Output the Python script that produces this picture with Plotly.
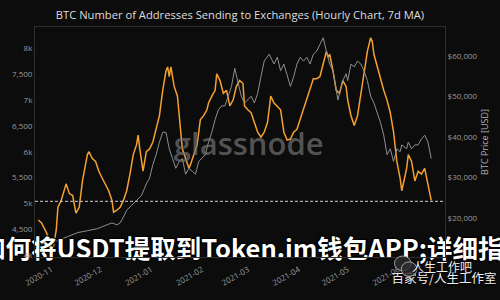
import plotly.graph_objects as go

# ---------------- data ----------------
addr_dates = [
    "2020-10-24", "2020-10-26", "2020-10-29",
    "2020-11-01", "2020-11-02", "2020-11-04", "2020-11-05", "2020-11-07", "2020-11-10", "2020-11-12", "2020-11-14",
    "2020-11-16", "2020-11-18", "2020-11-20", "2020-11-23", "2020-11-24", "2020-11-26", "2020-11-28", "2020-11-30",
    "2020-12-02", "2020-12-04", "2020-12-06", "2020-12-08", "2020-12-09", "2020-12-11", "2020-12-13", "2020-12-15",
    "2020-12-17", "2020-12-19", "2020-12-21", "2020-12-23", "2020-12-24", "2020-12-25", "2020-12-27", "2020-12-29", "2020-12-31",
    "2021-01-02", "2021-01-04", "2021-01-06", "2021-01-08", "2021-01-10", "2021-01-11", "2021-01-12", "2021-01-13",
    "2021-01-15", "2021-01-17", "2021-01-18", "2021-01-19", "2021-01-20", "2021-01-22", "2021-01-24", "2021-01-25",
    "2021-01-27", "2021-01-29", "2021-01-31",
    "2021-02-02", "2021-02-04", "2021-02-05", "2021-02-07", "2021-02-09", "2021-02-10", "2021-02-12", "2021-02-14",
    "2021-02-16", "2021-02-18", "2021-02-20", "2021-02-22", "2021-02-24", "2021-02-26", "2021-02-27",
    "2021-03-01", "2021-03-03", "2021-03-05", "2021-03-07", "2021-03-09", "2021-03-11", "2021-03-13", "2021-03-15",
    "2021-03-17", "2021-03-19", "2021-03-21", "2021-03-23", "2021-03-25", "2021-03-27", "2021-03-29", "2021-03-31",
    "2021-04-02", "2021-04-04", "2021-04-06", "2021-04-08", "2021-04-10", "2021-04-12", "2021-04-14", "2021-04-16",
    "2021-04-18", "2021-04-19", "2021-04-20", "2021-04-22", "2021-04-24", "2021-04-26", "2021-04-28", "2021-04-30",
    "2021-05-01", "2021-05-03", "2021-05-05", "2021-05-07", "2021-05-09", "2021-05-11", "2021-05-13", "2021-05-15",
    "2021-05-16", "2021-05-17", "2021-05-19", "2021-05-21", "2021-05-23", "2021-05-25", "2021-05-27", "2021-05-29", "2021-05-31",
    "2021-06-02", "2021-06-03", "2021-06-06", "2021-06-07", "2021-06-09", "2021-06-11", "2021-06-13", "2021-06-15",
    "2021-06-17", "2021-06-19", "2021-06-20", "2021-06-21",
]
addr_values = [
    4679, 4623, 4434,
    4170, 4113, 4491, 4925, 5057, 5378, 5189, 5151, 4811, 4925, 5434, 5944, 6000, 5868, 5812, 5623,
    5491, 5378, 5245, 5057, 4830, 4868, 4925, 5057, 5245, 5566, 5944, 6132, 6321, 6057, 5623, 6000, 6057,
    6189, 6434, 6698, 7189, 7566, 7642, 7453, 7642, 7265, 7076, 6755, 6434, 6057, 5868, 5679, 5755, 5944, 6132, 6623,
    6698, 6812, 6944, 7076, 7189, 7510, 7378, 7132, 7189, 6887, 7000, 7265, 7378, 7321, 6887,
    6812, 6755, 6566, 6378, 6283, 6378, 6566, 7076, 6944, 6887, 6812, 6378, 6227, 6245, 6378, 6434,
    6623, 6812, 7000, 7189, 7415, 7415, 7453, 7698, 7944, 7830, 7887, 7566, 7189, 7132, 7378, 7265,
    7000, 6698, 6510, 6698, 7132, 7566, 7944, 8208, 8132, 7887, 7642, 7378, 7189, 7000, 6755, 6378, 5812,
    5491, 5245, 5679, 5944, 5812, 5434, 5623, 5566, 5679, 5378, 5189, 5057,
]

price_dates = [
    "2020-10-22", "2020-11-02", "2020-11-11", "2020-11-17", "2020-11-23", "2020-11-29",
    "2020-12-02", "2020-12-05", "2020-12-08", "2020-12-11", "2020-12-13", "2020-12-15", "2020-12-17", "2020-12-20",
    "2020-12-23", "2020-12-26", "2020-12-29", "2020-12-31",
    "2021-01-02", "2021-01-04", "2021-01-06", "2021-01-08", "2021-01-10", "2021-01-12", "2021-01-14", "2021-01-16",
    "2021-01-18", "2021-01-20", "2021-01-22", "2021-01-24", "2021-01-26", "2021-01-28", "2021-01-30",
    "2021-02-01", "2021-02-03", "2021-02-05", "2021-02-07", "2021-02-09", "2021-02-11", "2021-02-13", "2021-02-15",
    "2021-02-17", "2021-02-19", "2021-02-21", "2021-02-23", "2021-02-25", "2021-02-27",
    "2021-03-01", "2021-03-03", "2021-03-05", "2021-03-07", "2021-03-09", "2021-03-11", "2021-03-14", "2021-03-17",
    "2021-03-19", "2021-03-21", "2021-03-23", "2021-03-25", "2021-03-27", "2021-03-29", "2021-03-31",
    "2021-04-02", "2021-04-04", "2021-04-06", "2021-04-08", "2021-04-10", "2021-04-12", "2021-04-14", "2021-04-16",
    "2021-04-18", "2021-04-20", "2021-04-22", "2021-04-24", "2021-04-25", "2021-04-28", "2021-04-30",
    "2021-05-01", "2021-05-03", "2021-05-05", "2021-05-07", "2021-05-09", "2021-05-11", "2021-05-13", "2021-05-15",
    "2021-05-17", "2021-05-19", "2021-05-21", "2021-05-23", "2021-05-25", "2021-05-27", "2021-05-29", "2021-05-31",
    "2021-06-02", "2021-06-03", "2021-06-06", "2021-06-07", "2021-06-09", "2021-06-11", "2021-06-13", "2021-06-15",
    "2021-06-17", "2021-06-19", "2021-06-20", "2021-06-21",
]
price_values = [
    13011, 13976, 15421, 16385, 16867, 17349,
    17831, 18313, 18795, 18313, 18795, 20241, 21928, 23133, 24338, 25543, 28435, 29881,
    33255, 35665, 38798, 41208, 41208, 37111, 34701, 32291, 33978, 34701, 30845, 32291, 31568, 30845, 33978,
    34701, 35665, 38798, 41208, 44341, 46751, 47715, 47715, 50125, 52535, 57000, 53500, 50125, 48438,
    49161, 50125, 48438, 50848, 54945, 58801, 60488, 58078, 59765, 56391, 58078, 54945, 52535, 54945, 58078,
    59765, 58801, 59765, 58078, 60488, 61211, 62898, 64585, 61211, 58078, 56391, 51571, 49161, 53981, 55668,
    53981, 58078, 57355, 58801, 58078, 56391, 53981, 50125, 48438, 46028, 43618, 40485, 35665, 37111, 33978, 37111,
    36388, 38075, 37111, 38798, 37111, 38075, 38075, 39521, 40485, 38798, 36388, 34701,
]

month_ticks = ["2020-11-01", "2020-12-01", "2021-01-01", "2021-02-01", "2021-03-01",
               "2021-04-01", "2021-05-01", "2021-06-01"]
addr_ticks = [4000, 4500, 5000, 5500, 6000, 6500, 7000, 7500, 8000]
addr_tick_text = ["4k", "4,500", "5k", "5,500", "6k", "6,500", "7k", "7,500", "8k"]
price_ticks = [20000, 30000, 40000, 50000, 60000]
price_tick_text = ["$20,000", "$30,000", "$40,000", "$50,000", "$60,000"]
threshold = 5040

title_text = "BTC Number of Addresses Sending to Exchanges (Hourly Chart, 7d MA)"
overlay_text = "如何将USDT提取到Token.im钱包APP;详细指南"
watermark_text = "glassnode"
source_line1 = "人生工作吧"
source_line2 = "百家号/人生工作室"

# ---------------- figure ----------------
W, H = 500, 300
ML, MR, MT, MB = 30, 48, 27, 37
PW, PH = W - ML - MR, H - MT - MB


def fx(px):  # pixel -> fraction of plot width (for the hidden overlay axis)
    return (px - ML) / PW


def fy(py):
    return (H - MB - py) / PH


fig = go.Figure()

# glassnode watermark behind the lines
fig.add_trace(go.Scatter(x=[fx(250)], y=[fy(150)], mode="text", text=[watermark_text],
                         textposition="middle center", xaxis="x3", yaxis="y3", cliponaxis=False,
                         textfont=dict(family="Open Sans", size=31, weight=600, color="rgba(115,115,115,0.7)"),
                         hoverinfo="skip"))

fig.add_trace(go.Scatter(x=price_dates, y=price_values, mode="lines", yaxis="y2",
                         line=dict(color="#8e8e8e", width=1), hoverinfo="skip"))
fig.add_trace(go.Scatter(x=addr_dates, y=addr_values, mode="lines",
                         line=dict(color="#f5a030", width=1.5), hoverinfo="skip"))

outline = "1px 1px 1px #000, -1px -1px 1px #000, 1px -1px 1px #000, -1px 1px 1px #000"
# overlay Chinese headline (runs off both edges like the reference)
fig.add_trace(go.Scatter(x=[fx(256)], y=[fy(257)], mode="text", text=[overlay_text],
                         textposition="middle center", xaxis="x3", yaxis="y3", cliponaxis=False,
                         textfont=dict(family="Noto Sans CJK SC", size=25.5, weight="bold", color="#ffffff",
                                       shadow=outline),
                         hoverinfo="skip"))
# bottom-right source watermark, second line (hangs below the plot corner)
fig.add_trace(go.Scatter(x=[fx(451)], y=[0], mode="text",
                         text=["<br>" + source_line2],
                         textposition="bottom center", xaxis="x3", yaxis="y3", cliponaxis=False,
                         textfont=dict(family="Noto Sans CJK SC", size=12.5, color="#f0f0f0",
                                       shadow="1px 1px 1px #000"),
                         hoverinfo="skip"))

bg = "#0c0c0c"
tickfont = dict(family="Open Sans", size=8, color="#9a9a9a")
fig.update_layout(
    width=W, height=H,
    margin=dict(l=ML, r=MR, t=MT, b=MB),
    paper_bgcolor=bg, plot_bgcolor=bg,
    showlegend=False,
    title=dict(text=title_text, x=0.5, xref="paper", xanchor="center",
               y=1 - 15 / 300, yref="container", yanchor="middle",
               font=dict(family="Open Sans", size=11.2, color="#dedede")),
    xaxis=dict(type="date", range=["2020-10-22", "2021-06-29 10:00"],
               tickvals=month_ticks, tickformat="%Y-%m", tickangle=-30,
               tickfont=tickfont, showgrid=False, zeroline=False, ticklabelstandoff=4,
               showline=True, linecolor="#2e2e2e", mirror=True, ticks=""),
    yaxis=dict(range=[3962, 8415], tickvals=addr_ticks, ticktext=addr_tick_text,
               tickfont=tickfont, showgrid=False, zeroline=False,
               showline=True, linecolor="#2e2e2e", ticks=""),
    yaxis2=dict(range=[10361, 67229], tickvals=price_ticks, ticktext=price_tick_text,
                overlaying="y", side="right", tickfont=tickfont,
                showgrid=False, zeroline=False, showline=True, linecolor="#2e2e2e", ticks="",
                title=dict(text="BTC Price [USD]", font=dict(family="Open Sans", size=9, color="#b0b0b0"),
                           standoff=4)),
    xaxis3=dict(range=[0, 1], overlaying="x", anchor="y3", visible=False, fixedrange=True),
    yaxis3=dict(range=[0, 1], overlaying="y", anchor="x3", visible=False, fixedrange=True),
)

fig.add_shape(type="line", xref="paper", x0=0, x1=1, yref="y", y0=threshold, y1=threshold,
              line=dict(color="#cfcfcf", width=1, dash="3px,2px"))

# WeChat-like icon next to the source watermark
fig.add_shape(type="circle", xref="paper", yref="paper", x0=fx(400), x1=fx(417), y0=fy(277), y1=fy(262),
              line=dict(color="#a0a0a0", width=1), fillcolor="rgba(45,45,45,0.8)")
fig.add_shape(type="circle", xref="paper", yref="paper", x0=fx(407), x1=fx(423), y0=fy(283), y1=fy(268),
              line=dict(color="#a0a0a0", width=1), fillcolor="rgba(45,45,45,0.8)")

# first line of the source watermark
fig.add_annotation(text=source_line1, xref="paper", yref="paper", x=fx(482), y=fy(273),
                   xanchor="right", yanchor="middle", showarrow=False,
                   font=dict(family="Noto Sans CJK SC", size=12, color="#f0f0f0",
                             shadow="1px 1px 1px #000"))

fig.write_html("out.html")
